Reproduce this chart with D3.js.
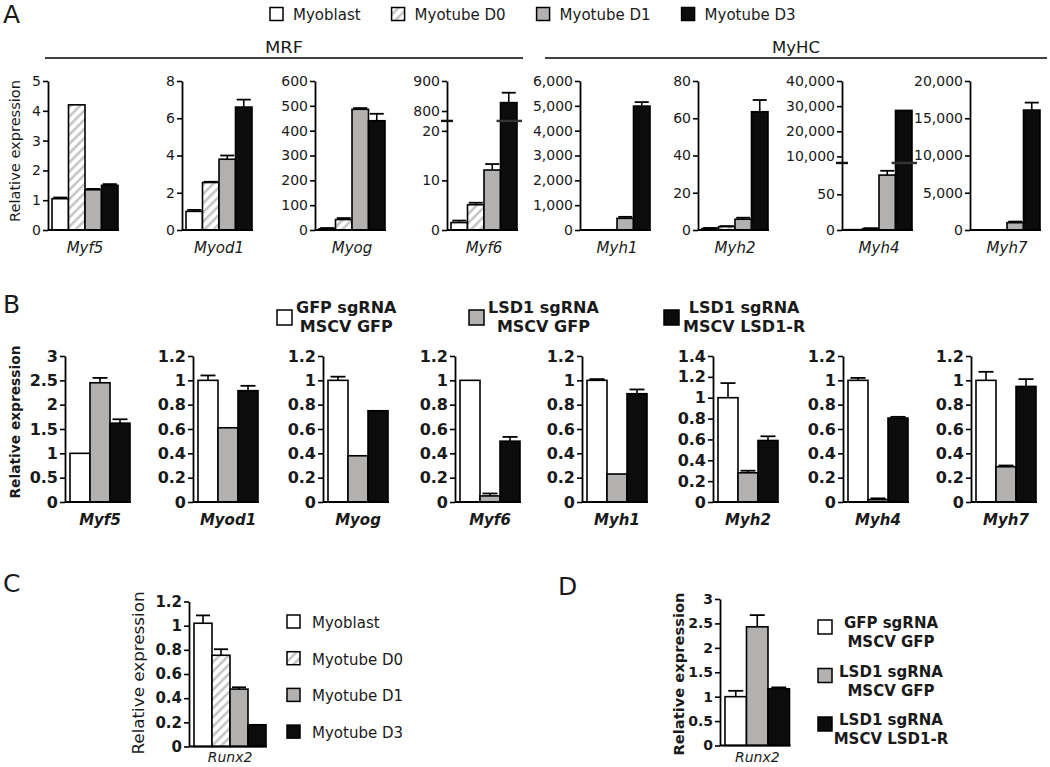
<!DOCTYPE html>
<html><head><meta charset="utf-8">
<script src="https://cdn.jsdelivr.net/npm/d3@7"></script>
<style>
body{margin:0;background:#fff;}
svg{display:block;}
</style></head><body>
<svg id="fig" width="1050" height="767"></svg>
<script>
// ================= DATA =================
const genes = ["Myf5","Myod1","Myog","Myf6","Myh1","Myh2","Myh4","Myh7"];
const geneGroupA = ["MRF","MRF","MRF","MRF","MyHC","MyHC","MyHC","MyHC"];
const groupLabelsA = ["MRF","MyHC"];
const seriesA = ["Myoblast","Myotube D0","Myotube D1","Myotube D3"];
const myoblastA  = [1.05, 1.0, 5, 1.5, 4, 0.8, 0.5, 12];
const myotubeD0A = [4.2, 2.55, 42, 5.1, 10, 1.8, 2, 25];
const myotubeD1A = [1.35, 3.8, 486, 12.1, 470, 5.8, 77, 980];
const myotubeD3A = [1.5, 6.6, 440, 828, 4990, 63.5, 28300, 16100];
const errMyoblastA  = [0.04, 0.08, 3, 0.4, 0, 0.3, 0, 0];
const errMyotubeD0A = [0, 0.04, 6, 0.4, 0, 0.3, 0.5, 0];
const errMyotubeD1A = [0.03, 0.2, 5, 1.2, 60, 0.8, 6, 150];
const errMyotubeD3A = [0.04, 0.4, 28, 33, 160, 6.3, 0, 1000];
const yMaxA = [5, 8, 600, 900, 6000, 80, 40000, 20000];
const breakLowA  = [null, null, null, 22, null, null, 94, null];
const breakHighA = [null, null, null, 767, null, null, 7400, null];
const ticksA = [
  [0,1,2,3,4,5],
  [0,2,4,6,8],
  [0,100,200,300,400,500,600],
  [0,10,20,800,900],
  [0,1000,2000,3000,4000,5000,6000],
  [0,20,40,60,80],
  [0,50,10000,20000,30000,40000],
  [0,5000,10000,15000,20000]
];

const seriesB = [["GFP sgRNA","MSCV GFP"],["LSD1 sgRNA","MSCV GFP"],["LSD1 sgRNA","MSCV LSD1-R"]];
const gfpB      = [1.0, 1.0, 1.0, 1.0, 1.0, 1.0, 1.0, 1.0];
const lsd1GfpB  = [2.45, 0.61, 0.38, 0.05, 0.23, 0.28, 0.02, 0.29];
const lsd1RB    = [1.62, 0.915, 0.75, 0.50, 0.89, 0.59, 0.69, 0.95];
const errGfpB     = [0, 0.04, 0.03, 0, 0.01, 0.14, 0.02, 0.07];
const errLsd1GfpB = [0.1, 0, 0, 0.02, 0, 0.02, 0.01, 0.01];
const errLsd1RB   = [0.08, 0.04, 0, 0.035, 0.035, 0.04, 0.01, 0.06];
const yMaxB = [3, 1.2, 1.2, 1.2, 1.2, 1.4, 1.2, 1.2];
const ticksB = [
  [0,0.5,1,1.5,2,2.5,3],
  [0,0.2,0.4,0.6,0.8,1,1.2],
  [0,0.2,0.4,0.6,0.8,1,1.2],
  [0,0.2,0.4,0.6,0.8,1,1.2],
  [0,0.2,0.4,0.6,0.8,1,1.2],
  [0,0.2,0.4,0.6,0.8,1,1.2,1.4],
  [0,0.2,0.4,0.6,0.8,1,1.2],
  [0,0.2,0.4,0.6,0.8,1,1.2]
];

const geneC = "Runx2";
const valuesC = [1.02, 0.755, 0.475, 0.18];
const errC    = [0.065, 0.05, 0.015, 0];
const yMaxC = 1.2;
const ticksC = [0,0.2,0.4,0.6,0.8,1,1.2];

const geneD = "Runx2";
const valuesD = [1.0, 2.43, 1.16];
const errD    = [0.12, 0.24, 0.03];
const yMaxD = 3;
const ticksD = [0,0.5,1,1.5,2,2.5,3];

const yTitle = "Relative expression";
const panelLetters = ["A","B","C","D"];

// ================= DRAWING =================
const FONT = "'DejaVu Sans', Verdana, sans-serif";
const svg = d3.select("#fig");
const defs = svg.append("defs");
const pat = defs.append("pattern").attr("id","hatch").attr("patternUnits","userSpaceOnUse")
  .attr("width",6.5).attr("height",6.5).attr("patternTransform","rotate(45)");
pat.append("rect").attr("width",6.5).attr("height",6.5).attr("fill","#fff");
pat.append("rect").attr("x",0).attr("width",2.6).attr("height",6.5).attr("fill","#c6c6c6");

const FILL4 = ["#ffffff","url(#hatch)","#b3b0b0","#0c0c0c"];
const FILL3 = ["#ffffff","#b3b0b0","#0c0c0c"];
const TXT = "#1a1a1a";

function drawChart(o) {
  const g = svg.append("g");
  const hasBreak = o.breakLow != null;
  const yBreak = o.y0 - (o.y0 - o.y1) * (o.breakFrac || 0);
  const y = d3.scaleLinear()
    .domain(hasBreak ? [0, o.breakLow, o.breakHigh, o.max] : [0, o.max])
    .range(hasBreak ? [o.y0, yBreak, yBreak, o.y1] : [o.y0, o.y1]);
  const n = o.values.length;
  const x = d3.scaleBand().domain(d3.range(n))
    .range([o.axisX + o.off, o.axisX + o.off + o.bw * n]);
  g.selectAll(".bar").data(o.values).join("rect").attr("class","bar")
    .attr("x",(d,i)=>x(i)).attr("width",x.bandwidth())
    .attr("y",d=>y(d)).attr("height",d=>Math.max(0,y(0)-y(d)))
    .attr("fill",(d,i)=>o.fills[i]).attr("stroke","#000").attr("stroke-width",1.6);
  const ed = o.values.map((v,i)=>({v, e:o.errs[i], i})).filter(d=>d.e>0);
  const eb = g.selectAll(".err").data(ed).join("g").attr("class","err");
  const cx = d => x(d.i)+x.bandwidth()/2;
  eb.append("line").attr("x1",cx).attr("x2",cx)
    .attr("y1",d=>y(d.v)).attr("y2",d=>y(d.v+d.e)).attr("stroke","#000").attr("stroke-width",1.6);
  eb.append("line").attr("x1",d=>cx(d)-o.cap/2).attr("x2",d=>cx(d)+o.cap/2)
    .attr("y1",d=>y(d.v+d.e)).attr("y2",d=>y(d.v+d.e)).attr("stroke","#000").attr("stroke-width",1.8);
  const ax = g.append("g").attr("transform",`translate(${o.axisX},0)`)
    .call(d3.axisLeft(y).tickValues(o.ticks).tickFormat(o.fmt).tickSize(5).tickSizeOuter(0).tickPadding(2));
  ax.attr("font-family",null).attr("font-size",null);
  ax.select(".domain").attr("stroke","#000").attr("stroke-width",1.8);
  ax.selectAll(".tick line").attr("stroke","#000").attr("stroke-width",1.6);
  ax.selectAll(".tick text").attr("font-family",FONT).attr("font-size",o.tickFont)
    .attr("font-weight",o.tickWeight).attr("fill",TXT);
  g.append("line").attr("x1",o.axisX).attr("x2",x.range()[1]+1)
    .attr("y1",o.y0).attr("y2",o.y0).attr("stroke","#000").attr("stroke-width",1.8);
  if (hasBreak) {
    g.append("line").attr("x1",o.axisX-6).attr("x2",o.axisX+6).attr("y1",yBreak).attr("y2",yBreak)
      .attr("stroke","#111").attr("stroke-width",2.4);
    const bi = n-1;
    g.append("line").attr("x1",x(bi)-4).attr("x2",x(bi)+x.bandwidth()+5).attr("y1",yBreak).attr("y2",yBreak)
      .attr("stroke","#333").attr("stroke-width",2.4);
  }
  g.append("text").attr("x",(x.range()[0]+x.range()[1])/2).attr("y",o.labelY)
    .attr("text-anchor","middle").attr("font-family",FONT).attr("font-style","italic")
    .attr("font-weight",o.labelWeight).attr("font-size",o.labelFont).attr("fill",TXT).text(o.label);
}

function drawYTitle(cx, cy, len, size, weight) {
  svg.append("text").attr("transform",`translate(${cx},${cy}) rotate(-90)`)
    .attr("text-anchor","middle").attr("dominant-baseline","central")
    .attr("font-family",FONT).attr("font-size",size).attr("font-weight",weight).attr("fill",TXT)
    .attr("textLength",len).attr("lengthAdjust","spacingAndGlyphs").text(yTitle);
}

function panelLetter(t, x, y) {
  svg.append("text").attr("x",x).attr("y",y).attr("font-family",FONT).attr("font-size",25)
    .attr("fill",TXT).text(t);
}

const commaFmt = d3.format(",");
const plainFmt = d => String(d);

// ---------- Panel A ----------
panelLetter(panelLetters[0], 3, 23);
(function(){
  let xPos = 270;
  seriesA.forEach((s,i)=>{
    svg.append("rect").attr("x",xPos).attr("y",7.5).attr("width",13).attr("height",13)
      .attr("fill",FILL4[i]).attr("stroke","#000").attr("stroke-width",1.5);
    const t = svg.append("text").attr("x",xPos+23).attr("y",19.5).attr("font-family",FONT)
      .attr("font-size",15).attr("fill",TXT).text(s);
    xPos = xPos + 23 + t.node().getComputedTextLength() + 31;
  });
})();
const headerSpans = [[45,523],[545,1047]];
groupLabelsA.forEach((gl,i)=>{
  const [a,b] = headerSpans[i];
  svg.append("line").attr("x1",a).attr("x2",b).attr("y1",58).attr("y2",58).attr("stroke","#000").attr("stroke-width",1.6);
  svg.append("text").attr("x",(a+b)/2).attr("y",53).attr("text-anchor","middle").attr("font-family",FONT)
    .attr("font-size",15).attr("fill",TXT).attr("textLength",gl==="MRF"?38:48).attr("lengthAdjust","spacingAndGlyphs").text(gl);
});
const axisXA = [48,182,315,447,580,698,842,970];
const breakFracA = [0,0,0,0.732,0,0,0.45,0];
genes.forEach((gname,i)=>{
  drawChart({
    axisX: axisXA[i], off: 4, bw: 16.5, y0: 230, y1: 81,
    max: yMaxA[i], breakLow: breakLowA[i], breakHigh: breakHighA[i], breakFrac: breakFracA[i],
    values: [myoblastA[i], myotubeD0A[i], myotubeD1A[i], myotubeD3A[i]],
    errs: [errMyoblastA[i], errMyotubeD0A[i], errMyotubeD1A[i], errMyotubeD3A[i]],
    fills: FILL4, cap: 14, ticks: ticksA[i], fmt: commaFmt, tickFont: 14, tickWeight: "normal",
    label: gname, labelY: 253, labelFont: 15, labelWeight: "normal"
  });
});
drawYTitle(15, 151, 142, 14, "normal");

// ---------- Panel B ----------
panelLetter(panelLetters[1], 3, 313);
(function(){
  const boxX = [277, 469, 664];
  seriesB.forEach((lines,i)=>{
    svg.append("rect").attr("x",boxX[i]).attr("y",310).attr("width",15).attr("height",15)
      .attr("fill",FILL3[i]).attr("stroke","#000").attr("stroke-width",1.5);
    const tg = svg.append("g");
    const ts = lines.map((l,k)=> tg.append("text").attr("y",313 + k*19).attr("text-anchor","middle")
      .attr("font-family",FONT).attr("font-size",16).attr("font-weight","bold").attr("fill",TXT).text(l));
    const w = d3.max(ts, t=>t.node().getComputedTextLength());
    ts.forEach(t=>t.attr("x", boxX[i] + 19 + w/2));
  });
})();
const axisXB = [65,193,323,455,582,713,843,971];
genes.forEach((gname,i)=>{
  drawChart({
    axisX: axisXB[i], off: 5, bw: 20, y0: 502, y1: 356,
    max: yMaxB[i],
    values: [gfpB[i], lsd1GfpB[i], lsd1RB[i]],
    errs: [errGfpB[i], errLsd1GfpB[i], errLsd1RB[i]],
    fills: FILL3, cap: 15, ticks: ticksB[i], fmt: plainFmt, tickFont: 16, tickWeight: "bold",
    label: gname, labelY: 525, labelFont: 15, labelWeight: "bold"
  });
});
drawYTitle(15, 422, 153, 14, "bold");

// ---------- Panel C ----------
panelLetter(panelLetters[2], 3, 592);
drawChart({
  axisX: 189, off: 5, bw: 18, y0: 746.5, y1: 601.5, max: yMaxC,
  values: valuesC, errs: errC, fills: FILL4, cap: 14, ticks: ticksC, fmt: plainFmt,
  tickFont: 15, tickWeight: "bold", label: geneC, labelY: 762, labelFont: 14, labelWeight: "normal"
});
drawYTitle(139, 673, 163, 15, "normal");
seriesA.forEach((s,i)=>{
  svg.append("rect").attr("x",287).attr("y",615 + i*36.7).attr("width",13).attr("height",13)
    .attr("fill",FILL4[i]).attr("stroke","#000").attr("stroke-width",1.5);
  svg.append("text").attr("x",312).attr("y",628 + i*36.7).attr("font-family",FONT).attr("font-size",15)
    .attr("fill",TXT).text(s);
});

// ---------- Panel D ----------
panelLetter(panelLetters[3], 558, 595);
drawChart({
  axisX: 720, off: 5, bw: 21.5, y0: 745.5, y1: 599, max: yMaxD,
  values: valuesD, errs: errD, fills: FILL3, cap: 15, ticks: ticksD, fmt: plainFmt,
  tickFont: 14, tickWeight: "bold", label: geneD, labelY: 762, labelFont: 14, labelWeight: "normal"
});
drawYTitle(679, 674, 163, 14, "bold");
seriesB.forEach((lines,i)=>{
  const cy = 627 + i*48.5;
  svg.append("rect").attr("x",818).attr("y",cy-7).attr("width",14).attr("height",14)
    .attr("fill",FILL3[i]).attr("stroke","#000").attr("stroke-width",1.5);
  lines.forEach((l,k)=>{
    svg.append("text").attr("x",891).attr("y",cy + 1 + k*19).attr("text-anchor","middle")
      .attr("font-family",FONT).attr("font-size",15).attr("font-weight","bold").attr("fill",TXT).text(l);
  });
});
</script>
</body></html>
